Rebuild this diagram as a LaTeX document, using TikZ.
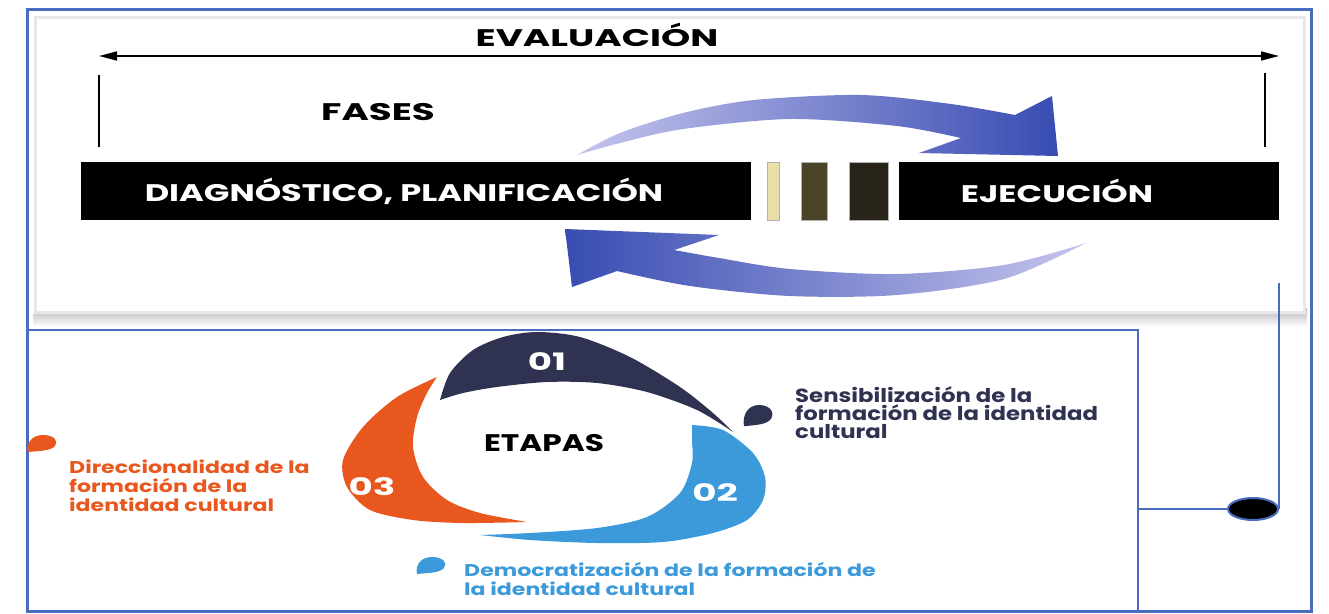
\documentclass[tikz,border=0pt]{standalone}
\usepackage{fontspec}
\setmainfont{Poppins}
\newfontfamily\fuenteancha{Poppins}[FakeStretch=1.55]
\newfontfamily\fuentemedia{Poppins}[FakeStretch=1.4]
\newfontfamily\fuenteetapa{Poppins}[FakeStretch=1.3]
\newfontfamily\fuentetexto{Poppins}[FakeStretch=1.2]
\usetikzlibrary{positioning}
\usetikzlibrary{shapes}
\usetikzlibrary{arrows.meta}
\definecolor{marco}{RGB}{74,108,192}
\definecolor{azulosc}{RGB}{47,50,80}
\definecolor{celeste}{RGB}{60,154,219}
\definecolor{naranja}{RGB}{232,88,30}
\definecolor{lavanda}{RGB}{196,196,236}
\definecolor{anil}{RGB}{56,76,178}
\definecolor{crema}{RGB}{236,222,170}
\definecolor{oliva}{RGB}{76,68,40}
\definecolor{pardo}{RGB}{40,36,26}
\tikzstyle{fase} = [rectangle,fill=black,minimum height=58pt,inner sep=0pt,outer sep=0pt,text=white,font=\fuentemedia\bfseries\fontsize{24}{28}\selectfont]
\tikzstyle{franja} = [fase,draw=gray!60,line width=0.8pt]
\tikzstyle{titulo} = [font=\fuenteancha\bfseries\fontsize{24}{28}\selectfont]
\tikzstyle{numero} = [text=white,font=\fuenteancha\bfseries\fontsize{24}{28}\selectfont]
\tikzstyle{etapa} = [anchor=north west,align=left,inner sep=0pt,font=\fuenteetapa\bfseries\fontsize{17}{19}\selectfont]
\tikzset{>={Triangle[length=18pt,width=9pt]}}

\begin{document}
\begin{tikzpicture}[x=1pt,y=-1pt]
  \useasboundingbox (0,0) rectangle (1329,613);

  % marco y panel superior
  \draw [marco,line width=3pt] (27,9) rectangle (1311,611);
  \shade [top color=gray!55,bottom color=white] (33,308) rectangle (1307,327);
  \fill [white] (33,15) rectangle (1306,314);
  \draw [gray!18,line width=3pt] (35,17) rectangle (1304,312);
  \node [draw=marco,line width=2.5pt,minimum width=1111pt,minimum height=281pt,anchor=north west,inner sep=0pt,outer sep=0pt] (r2) at (27,330) {};

  % evaluacion
  \node [titulo] (n0) at (597,35) {EVALUACIÓN};
  \coordinate (e1) at (99,56);
  \coordinate (e2) at (1279,56);
  \draw [<->,line width=1.6pt] (e1) -- (e2);
  \coordinate (t1) at (99,75);
  \coordinate (t2) at (99,147);
  \coordinate (t3) at (1265,73);
  \coordinate (t4) at (1265,147);
  \draw [line width=1.6pt] (t1) -- (t2);
  \draw [line width=1.6pt] (t3) -- (t4);
  \node [titulo] (n6) at (378,112) {FASES};

  % fases
  \node [fase,minimum width=670pt,anchor=west] (n1) at (81,191) {};
  \node [franja,fill=crema,minimum width=12pt,right=16pt of n1] (n2) {};
  \node [franja,fill=oliva,minimum width=26pt,right=22pt of n2] (n3) {};
  \node [franja,fill=pardo,minimum width=39pt,right=22pt of n3] (n4) {};
  \node [fase,minimum width=380pt,right=11pt of n4] (n5) {};
  \node [fase,fill=none] (n15) at ([xshift=-12pt]n1.center) {DIAGNÓSTICO, PLANIFICACIÓN};
  \node [fase,fill=none] (n7) at ([xshift=-32pt]n5.center) {EJECUCIÓN};

  % flechas curvas
  \shade [left color=lavanda,right color=anil]
    plot [smooth] coordinates {(577,155) (620,133) (683,113) (754,100) (861,95) (951,104) (1015,115)}
    -- (1052,96) -- (1058,156) -- (919,153) -- (961,138)
    -- plot [smooth] coordinates {(961,138) (897,126) (790,119) (683,129) (620,143) (577,155)} -- cycle;
  \shade [left color=anil,right color=lavanda]
    plot [smooth] coordinates {(1086,243) (1004,265) (897,274) (790,269) (719,258) (674,250)}
    -- (719,235) -- (565,229) -- (572,287) -- (617,271)
    -- plot [smooth] coordinates {(617,271) (690,286) (790,296) (897,295) (1004,279) (1086,243)} -- cycle;

  % etapas
  \fill [azulosc] plot [smooth] coordinates {(440,400) (450,373) (473,350) (503,337) (537,332) (580,337) (630,357) (680,387) (713,413) (733,432)}
    -- plot [smooth] coordinates {(733,432) (697,410) (647,392) (597,383) (547,382) (497,387) (463,393) (440,400)} -- cycle;
  \fill [celeste] plot [smooth] coordinates {(692,425) (723,430) (753,453) (765,477) (763,500) (747,520) (713,533) (663,542) (597,543) (530,540) (480,535)}
    -- plot [smooth] coordinates {(480,535) (530,533) (597,528) (647,517) (680,493) (692,463) (692,440) (692,425)} -- cycle;
  \fill [naranja] plot [smooth] coordinates {(437,377) (397,397) (363,427) (343,460) (347,487) (370,510) (413,520) (463,523) (527,522)}
    -- plot [smooth] coordinates {(527,522) (480,513) (447,500) (423,477) (413,447) (417,417) (427,393) (437,377)} -- cycle;
  \node [numero] (n8) at (547,362) {01};
  \node [numero] (n9) at (715,493) {02};
  \node [numero] (n10) at (372,487) {03};
  \node [titulo,font=\fuenteetapa\bfseries\fontsize{24}{28}\selectfont] (n11) at (544,443) {ETAPAS};

  % gotas y textos
  \fill [azulosc,shift={(742,405)},yscale=1.25] (2,17) .. controls (0,8) and (6,0) .. (17,0) .. controls (28,0) and (33,6) .. (29,11) .. controls (25,16) and (12,16) .. (2,17) -- cycle;
  \fill [naranja,shift={(26,435)}] (2,17) .. controls (0,8) and (6,0) .. (17,0) .. controls (28,0) and (33,6) .. (29,11) .. controls (25,16) and (12,16) .. (2,17) -- cycle;
  \fill [celeste,shift={(415,557)}] (2,17) .. controls (0,8) and (6,0) .. (17,0) .. controls (28,0) and (33,6) .. (29,11) .. controls (25,16) and (12,16) .. (2,17) -- cycle;
  \node [etapa,text=azulosc,font=\fuentetexto\bfseries\fontsize{19}{18}\selectfont] (n12) at (795,386) {Sensibilización de la\\formación de la identidad\\cultural};
  \node [etapa,text=naranja] (n13) at (69,460) {Direccionalidad de la\\formación de la\\identidad cultural};
  \node [etapa,text=celeste] (n14) at (464,562) {Democratización de la formación de\\la identidad cultural};

  % enlace
  \node [ellipse,fill=black,draw=marco,line width=2pt,minimum width=50pt,minimum height=22pt] (o1) at (1253,509) {};
  \coordinate (v1) at (o1.east |- 0,283);
  \draw [marco,line width=2.5pt] (v1) -- (o1.east);
  \draw [marco,line width=2.5pt] (r2.east |- o1.west) -- (o1.west);
\end{tikzpicture}
\end{document}
